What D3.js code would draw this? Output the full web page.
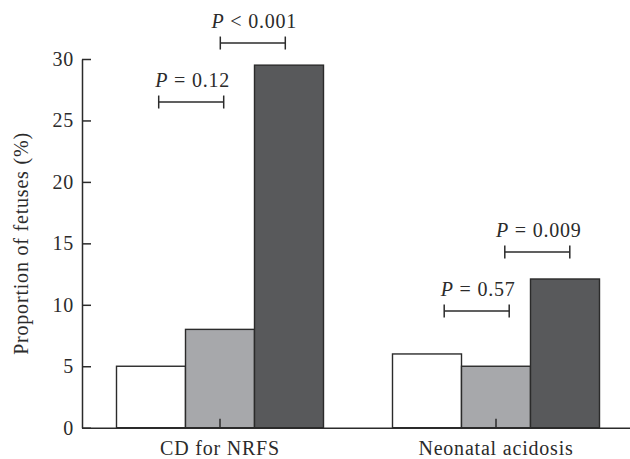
<!DOCTYPE html>
<html>
<head>
<meta charset="utf-8">
<script src="https://cdn.jsdelivr.net/npm/d3@7"></script>
<style>
  body { margin: 0; background: #fff; }
  text { font-family: "Liberation Serif", "Times New Roman", serif; fill: #2b2b2b; }
</style>
</head>
<body>
<script>
// Data
const categories = ["CD for NRFS", "Neonatal acidosis"];
const seriesNames = ["group A", "group B", "group C"];
const seriesA = [5, 6];
const seriesB = [8, 5];
const seriesC = [29.5, 12.1];
const yTicks = [0, 5, 10, 15, 20, 25, 30];

// Significance comparisons (group, bar from, bar to, symbol, p value)
const pGroup = [0, 0, 1, 1];
const pFrom = [0, 1, 0, 1];
const pTo = [1, 2, 1, 2];
const pSymbol = ["=", "<", "=", "="];
const pValue = ["0.12", "0.001", "0.57", "0.009"];

// Layout for the brackets (height in axis units, horizontal nudge in px)
const bracketLevel = [26.5, 31.3, 9.5, 14.3];
const bracketShift = [5.7, -1.7, 15.2, 6.8];

const colors = ["#ffffff", "#a7a8ab", "#58595b"];
const ink = "#2b2b2b";

const width = 630, height = 459;
const margin = {top: 59, right: -4, bottom: 31, left: 82};

const svg = d3.select("body").append("svg")
  .attr("width", width)
  .attr("height", height);

const x = d3.scaleBand()
  .domain(categories)
  .range([margin.left, width - margin.right])
  .paddingInner(0.25)
  .paddingOuter(0.125);

const xs = d3.scaleBand()
  .domain(seriesNames)
  .range([0, x.bandwidth()]);

const y = d3.scaleLinear()
  .domain([0, 30])
  .range([height - margin.bottom - 0.3, margin.top]);

const values = [seriesA, seriesB, seriesC];

// Bars
const groups = svg.append("g").selectAll("g")
  .data(categories)
  .join("g")
  .attr("transform", d => "translate(" + x(d) + ",0)");

groups.selectAll("rect")
  .data((c, ci) => seriesNames.map((s, si) => ({s: s, si: si, v: values[si][ci]})))
  .join("rect")
  .attr("x", d => xs(d.s))
  .attr("width", xs.bandwidth())
  .attr("y", d => y(d.v))
  .attr("height", d => y(0) - y(d.v))
  .attr("fill", d => colors[d.si])
  .attr("stroke", ink)
  .attr("stroke-width", 1.4);

// Axes
const yAxis = svg.append("g")
  .attr("transform", "translate(" + margin.left + ",0)")
  .call(d3.axisLeft(y).tickValues(yTicks).tickSizeInner(-9).tickSizeOuter(0).tickPadding(8));

const xAxis = svg.append("g")
  .attr("transform", "translate(0," + y(0) + ")")
  .call(d3.axisBottom(x).tickSizeInner(-9).tickSizeOuter(0).tickPadding(13));

[xAxis, yAxis].forEach(a => {
  a.selectAll("path, line").attr("stroke", ink).attr("stroke-width", 1.5);
  a.selectAll("text")
    .attr("fill", ink)
    .style("font-family", "'Liberation Serif', serif")
    .style("font-size", "20px")
    .style("letter-spacing", "0.8px");
});

// Y axis label
svg.append("text")
  .attr("transform", "rotate(-90)")
  .attr("x", -243.5)
  .attr("y", 28)
  .attr("text-anchor", "middle")
  .style("font-size", "20px")
  .style("letter-spacing", "0.8px")
  .text("Proportion of fetuses (%)");

// Significance brackets
const barCenter = (g, b) => x(categories[g]) + xs(seriesNames[b]) + xs.bandwidth() / 2;

pValue.forEach((p, i) => {
  const x1 = barCenter(pGroup[i], pFrom[i]) + bracketShift[i] + 2;
  const x2 = barCenter(pGroup[i], pTo[i]) + bracketShift[i] - 2;
  const yy = y(bracketLevel[i]);
  const b = svg.append("g")
    .attr("stroke", ink)
    .attr("stroke-width", 1.5)
    .attr("fill", "none");
  b.append("line").attr("x1", x1).attr("x2", x2).attr("y1", yy).attr("y2", yy);
  b.append("line").attr("x1", x1).attr("x2", x1).attr("y1", yy - 6.5).attr("y2", yy + 6.5);
  b.append("line").attr("x1", x2).attr("x2", x2).attr("y1", yy - 6.5).attr("y2", yy + 6.5);

  const t = svg.append("text")
    .attr("x", (x1 + x2) / 2 + 1.5)
    .attr("y", yy - 15)
    .attr("text-anchor", "middle")
    .style("font-size", "20px")
    .style("letter-spacing", "0.8px");
  t.append("tspan").style("font-style", "italic").text("P");
  t.append("tspan").text(" " + pSymbol[i] + " " + p);
});
</script>
</body>
</html>
